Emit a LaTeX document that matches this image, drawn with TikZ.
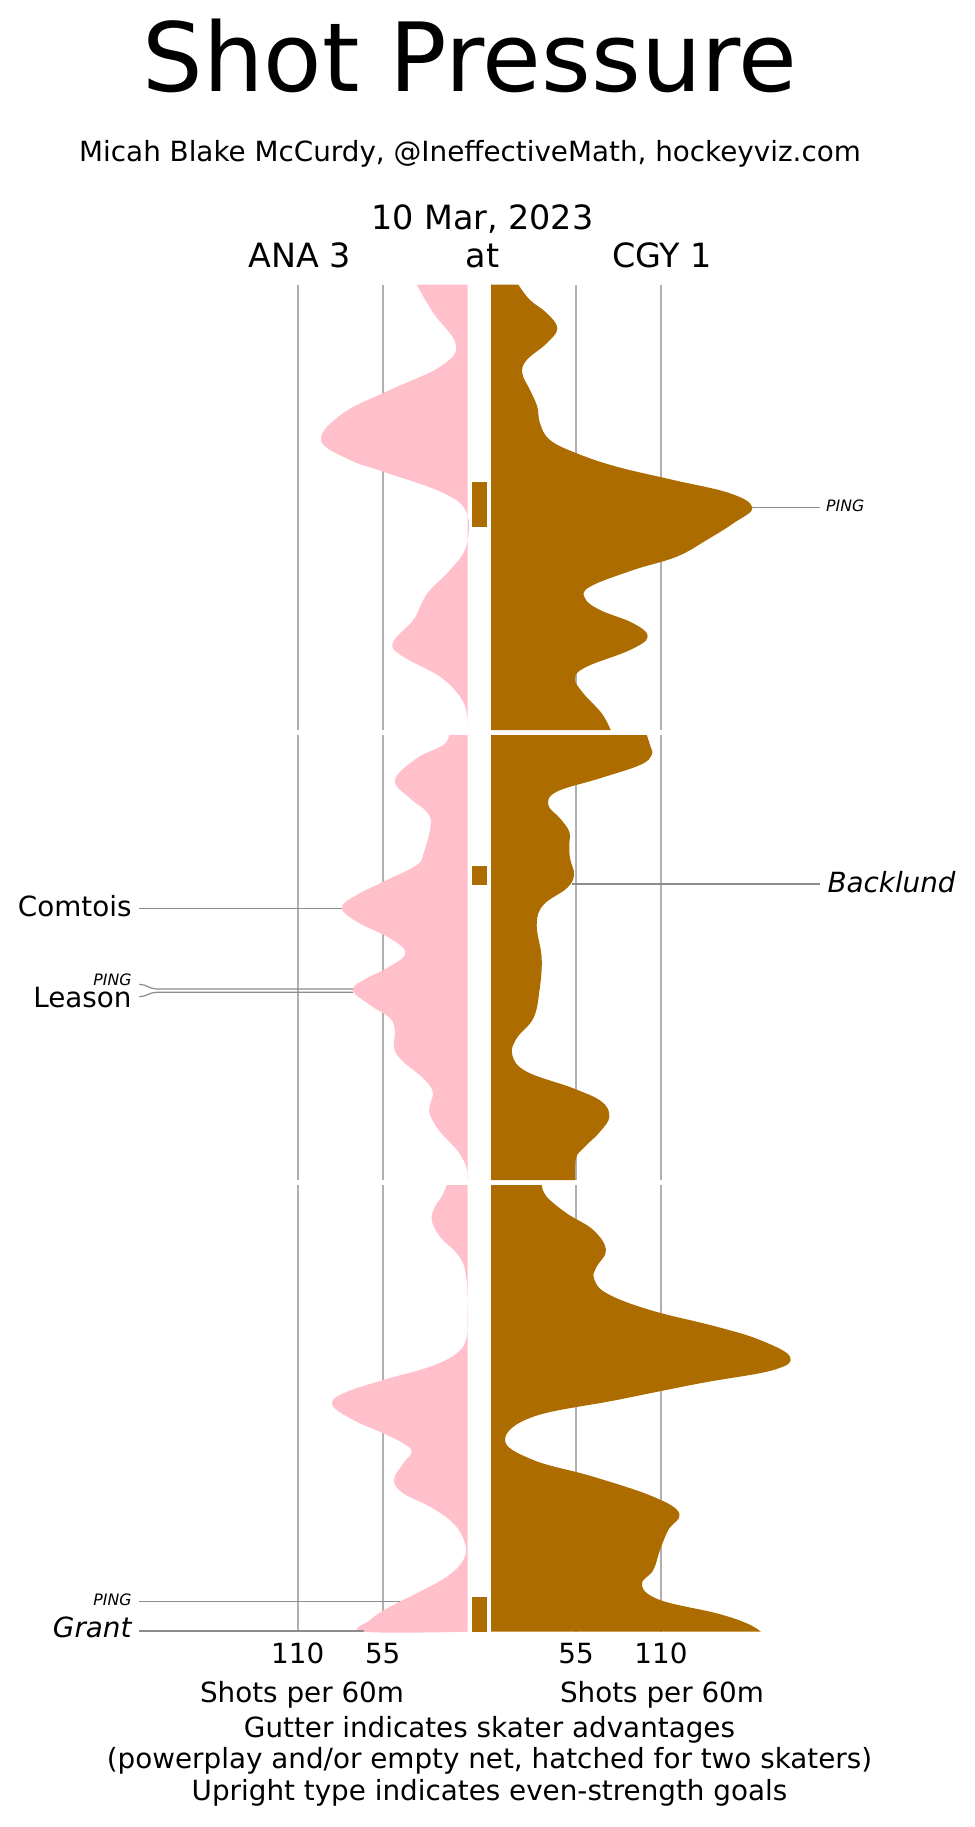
\documentclass[tikz,border=0pt]{standalone}
\usepackage{fontspec}
\setmainfont{DejaVu Sans}
\definecolor{anapink}{HTML}{FFC0CB}
\definecolor{cgybrown}{HTML}{AD6C00}
\definecolor{gridgray}{HTML}{B0B0B0}
\definecolor{goalgray}{HTML}{8C8C8C}
\tikzstyle{gridline}=[draw=gridgray, line width=1.6pt]
\tikzstyle{goalline}=[draw=goalgray, line width=1.2pt]
\tikzstyle{advantage}=[fill=cgybrown]
\tikzstyle{headline}=[anchor=base, font=\fontsize{95.5}{110}\selectfont]
\tikzstyle{team}=[anchor=base, font=\fontsize{33.4}{38}\selectfont]
\tikzstyle{caption}=[anchor=base, font=\fontsize{27.8}{32}\selectfont]
\tikzstyle{scorer}=[inner sep=0, font=\fontsize{27.8}{32}\selectfont]
\tikzstyle{scorer small}=[inner sep=0, font=\fontsize{15.7}{18}\selectfont\itshape]
\tikzstyle{density}=[smooth, tension=0.65]

\begin{document}
\begin{tikzpicture}[x=1pt, y=-1pt]
          \useasboundingbox (0,0) rectangle (974,1827);

          \node[headline] (title) at (470,91.7) {Shot Pressure};
          \node[caption] (credit) at (470,161.7) {Micah Blake McCurdy, @IneffectiveMath, hockeyviz.com};
          \node[team] (date) at (482.3,230) {10 Mar, 2023};
          \node[team] (away) at (300,267.7) {ANA 3};
          \node[team] (at) at (482.5,267.7) {at};
          \node[team] (home) at (662,267.7) {CGY 1};

          \foreach \ya/\yb in {284.7/730, 735/1180, 1185/1631.7}
            \foreach \x in {297.7, 382.7, 576, 661}
              \draw[gridline] (\x,\ya) -- (\x,\yb);

          \fill[anapink] (467.7,284.7) -- plot[density] coordinates {
            (416.7,284.7) (433.3,313) (456,345) (440,366.7) (390,390) (343.3,413)
            (321,440) (350,460) (383.3,471.7) (443.3,493) (466.7,513) (466,546.7)
            (450,570) (430,590) (421.7,603) (413.3,620) (392.7,643) (403.3,656.7)
            (440,676.7) (460,696.7) (466.7,713) (467.7,730)} -- cycle;
          \fill[anapink] (467.7,735) -- plot[density] coordinates {
            (449,735) (443.3,745) (416.7,758.3) (395,780) (410,798.3) (426.7,811.7)
            (430.7,825) (424,851.7) (416.7,865) (383.3,881.7) (356.7,895) (341.7,907.7)
            (356.7,921.7) (390,938.3) (405.3,953.3) (386.7,968.3) (366.7,978.3) (352.7,990)
            (370,1005) (390,1018.3) (395,1031.7) (394,1048.3) (403.3,1061.7) (423.3,1078.3)
            (432.7,1091.7) (430,1105) (430,1115) (440,1131.7) (458.3,1151.7) (466.7,1168.3)
            (467.7,1180)} -- cycle;
          \fill[anapink] (467.7,1185) -- plot[density] coordinates {
            (446.7,1185) (441.7,1196.7) (435,1206.7) (431.7,1220) (440,1236.7) (456.7,1253.3)
            (465,1270) (467.7,1303.3) (466.7,1336.7) (456.7,1353.3) (430,1366.7) (383.3,1380)
            (343.3,1393.3) (332.3,1405) (353.3,1420) (383.3,1433.3) (403.3,1443.3) (411.7,1451.7)
            (403.3,1463.3) (394,1480) (403.3,1493.3) (430,1506.7) (453.3,1523.3) (465,1543.3)
            (463.3,1560) (446.7,1576.7) (416.7,1593.3) (390,1606.7) (370,1620) (364.3,1631.7)
            (467.7,1631.7)} -- cycle;

          \fill[cgybrown] (491,284.7) -- plot[density] coordinates {
            (518.3,284.7) (530,300) (546.7,313) (557.3,328.3) (546.7,343.3) (526.7,360)
            (522.3,373.3) (530,390) (537.3,406.7) (540,423.3) (550,440) (576.7,453.3)
            (616.7,466.7) (673.3,480) (730,493.3) (752.3,507.7) (733.3,523.3) (706.7,540)
            (676.7,556.7) (633.3,570) (590,586.7) (585,598.3) (600,610) (633.3,623.3)
            (647.7,636.7) (630,650) (586.7,666.7) (575,678.3) (583.3,693.3) (601.7,713.3)
            (610.7,730)} -- (491,730) -- cycle;
          \fill[cgybrown] (491,735) -- plot[density] coordinates {
            (646.7,735) (650,745) (651.7,755) (640,765) (600,778.3) (556.7,791.7)
            (548.3,805) (560,818.3) (569.3,831.7) (569.3,845) (570,858.3) (574,875)
            (566.7,888.3) (543.3,905) (536.7,925) (541.7,958.3) (539.3,991.7) (533.3,1018.3)
            (516.7,1038.3) (512.3,1055) (526.7,1071.7) (573.3,1088.3) (601.7,1101.7) (609.3,1116.7)
            (600,1131.7) (583.3,1148.3) (576,1158.3) (575.3,1180)} -- (491,1180) -- cycle;
          \fill[cgybrown] (491,1185) -- plot[density] coordinates {
            (541.7,1185) (546.7,1196.7) (566.7,1213.3) (593.3,1230) (606,1250) (596.7,1266.7)
            (594,1278.3) (606.7,1293.3) (650,1310) (716.7,1326.7) (760,1340) (790,1356.7)
            (773.3,1370) (700,1383.3) (616.7,1400) (533.3,1416.7) (505,1440) (533.3,1460)
            (593.3,1476.7) (653.3,1496.7) (679.3,1513.3) (668.3,1530) (660,1550) (653.3,1570)
            (641.7,1585) (660,1600) (716.7,1613.3) (746.7,1623.3) (761,1631.7)} -- (491,1631.7) -- cycle;

          \fill[advantage] (472,482) rectangle (487,527);
          \fill[advantage] (472,866) rectangle (487,885);
          \fill[advantage] (472,1596.7) rectangle (487,1631.7);

          \node[scorer small, anchor=base west] (ping_right) at (826,511.7) {PING};
          \coordinate (ping_right_tip) at (751.7,507.7);
          \draw[goalline] (ping_right_tip) -- ([xshift=-6pt, yshift=4pt]ping_right.base west);

          \node[scorer, anchor=base west, font=\fontsize{27.8}{32}\selectfont\itshape] (backlund) at (827.3,892.7) {Backlund};
          \coordinate (backlund_tip) at (571.7,884);
          \draw[goalline] (backlund_tip) -- ([xshift=-7.3pt, yshift=8.7pt]backlund.base west);

          \node[scorer, anchor=base east] (comtois) at (131.7,916.7) {Comtois};
          \coordinate (comtois_tip) at (341.7,908.3);
          \draw[goalline] ([xshift=7.6pt, yshift=8.4pt]comtois.base east) -- (comtois_tip);

          \node[scorer small, anchor=base east] (leason_ping) at (131.7,985.7) {PING};
          \node[scorer, anchor=base east] (leason) at (131.7,1007.7) {Leason};
          \coordinate (leason_ping_tip) at (353,989);
          \coordinate (leason_tip) at (353,992.3);
          \draw[goalline] ([xshift=7.6pt, yshift=1.4pt]leason_ping.base east)
            to[out=0, in=180] ++(17.4,4.7) -- (leason_ping_tip);
          \draw[goalline] ([xshift=7.6pt, yshift=11pt]leason.base east)
            to[out=0, in=180] ++(17.4,-4.4) -- (leason_tip);

          \node[scorer small, anchor=base east] (grant_ping) at (131.7,1605) {PING};
          \node[scorer, anchor=base east, font=\fontsize{27.8}{32}\selectfont\itshape] (grant) at (131.7,1637.7) {Grant};
          \coordinate (grant_ping_tip) at (400,1601.7);
          \coordinate (grant_tip) at (364.3,1631);
          \draw[goalline] ([xshift=7.6pt, yshift=3.3pt]grant_ping.base east) -- (grant_ping_tip);
          \draw[goalline] ([xshift=7.6pt, yshift=6.7pt]grant.base east) -- (grant_tip);

          \node[caption] (tick_away_2) at (297.7,1663.3) {110};
          \node[caption] (tick_away_1) at (382.7,1663.3) {55};
          \node[caption] (tick_home_1) at (576,1663.3) {55};
          \node[caption] (tick_home_2) at (661,1663.3) {110};
          \node[caption] (axis_away) at (302,1702.7) {Shots per 60m};
          \node[caption] (axis_home) at (662,1702.7) {Shots per 60m};

          \node[caption] (note_1) at (489.5,1737.3) {Gutter indicates skater advantages};
          \node[caption] (note_2) at (489.5,1768.7) {(powerplay and/or empty net, hatched for two skaters)};
          \node[caption] (note_3) at (489.5,1800) {Upright type indicates even-strength goals};
        \end{tikzpicture}
\end{document}
